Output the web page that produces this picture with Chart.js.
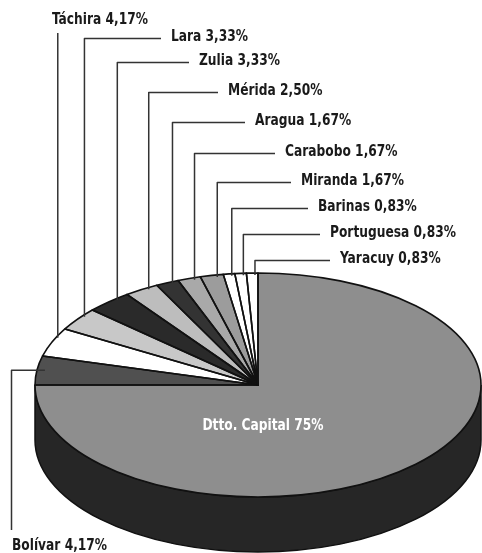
<!DOCTYPE html>
<html>
<head>
<meta charset="utf-8">
<script src="https://cdn.jsdelivr.net/npm/chart.js@4.4.1/dist/chart.umd.min.js"></script>
<style>
    html, body { margin: 0; padding: 0; background: #ffffff; }
    #pie { display: block; }
</style>
</head>
<body>
<canvas id="pie" width="482" height="553"></canvas>
<script>
// Distribución por entidad - pie 3D en escala de grises

const regions = ['Dtto. Capital', 'Bolívar', 'Táchira', 'Lara', 'Zulia', 'Mérida', 'Aragua', 'Carabobo', 'Miranda', 'Barinas', 'Portuguesa', 'Yaracuy'];
const shares = [75, 4.17, 4.17, 3.33, 3.33, 2.50, 1.67, 1.67, 1.67, 0.83, 0.83, 0.83];
const sliceColors = ['#8e8e8e', '#505050', '#ffffff', '#c8c8c8', '#2a2a2a', '#bdbdbd', '#333333', '#a9a9a9', '#9c9c9c', '#ffffff', '#ffffff', '#ffffff'];

// Callout placement (text left x, text middle y); index follows regions
const callouts = [
    { x: 263, y: 426, kind: 'inside' },
    { x: 12, y: 546, kind: 'down' },
    { x: 52, y: 20, kind: 'up' },
    { x: 171, y: 37, kind: 'elbow' },
    { x: 199, y: 61, kind: 'elbow' },
    { x: 228, y: 91, kind: 'elbow' },
    { x: 255, y: 121, kind: 'elbow' },
    { x: 285, y: 152, kind: 'elbow' },
    { x: 301, y: 181, kind: 'elbow' },
    { x: 318, y: 207, kind: 'elbow' },
    { x: 330, y: 233, kind: 'elbow' },
    { x: 340, y: 259, kind: 'elbow' }
];

// Projected ellipse of the pie top
const view = { cx: 258, cy: 385, rx: 223, ry: 112, depth: 55 };
const labelFont = "bold 16px 'Liberation Sans Narrow', 'DejaVu Sans Condensed', sans-serif";
const squeeze = 0.85; // condensed look for the labels

function formatShare(v) {
    return Number.isInteger(v) ? `${v}%` : `${v.toFixed(2).replace('.', ',')}%`;
}

function darken(hex, f) {
    const n = parseInt(hex.slice(1), 16);
    const c = [(n >> 16) & 255, (n >> 8) & 255, n & 255].map(v => Math.round(v * f));
    return `rgb(${c[0]},${c[1]},${c[2]})`;
}

function arcPath(ctx, a0, a1) {
    ctx.beginPath();
    ctx.moveTo(view.cx, view.cy);
    ctx.ellipse(view.cx, view.cy, view.rx, view.ry, 0, a0, a1);
    ctx.closePath();
}

function drawLabel(ctx, text, x, y, align) {
    ctx.save();
    ctx.translate(x, y);
    ctx.scale(squeeze, 1);
    ctx.textAlign = align;
    ctx.fillText(text, 0, 0);
    ctx.restore();
}

const tiltPlugin = {
    id: 'tilt',
    beforeDatasetsDraw(chart) {
        const ctx = chart.ctx;
        const arcs = chart.getDatasetMeta(0).data;
        const { cx, cy, rx, ry, depth } = view;

        // side wall for the front half (0..PI)
        arcs.forEach((arc, i) => {
            const { startAngle, endAngle } = arc.getProps(['startAngle', 'endAngle'], true);
            [0, 2 * Math.PI].forEach(shift => {
                const a0 = Math.max(startAngle, shift);
                const a1 = Math.min(endAngle, shift + Math.PI);
                if (a1 <= a0) return;
                ctx.beginPath();
                ctx.moveTo(cx + rx * Math.cos(a0), cy + ry * Math.sin(a0));
                ctx.ellipse(cx, cy + depth, rx, ry, 0, a0, a1);
                ctx.ellipse(cx, cy, rx, ry, 0, a1, a0, true);
                ctx.closePath();
                ctx.fillStyle = darken(sliceColors[i], 0.27);
                ctx.fill();
                ctx.lineWidth = 1.5;
                ctx.strokeStyle = '#111111';
                ctx.stroke();
            });
        });

        // squash the circle into the ellipse
        const { x, y, outerRadius } = arcs[0].getProps(['x', 'y', 'outerRadius'], true);
        ctx.save();
        ctx.translate(cx, cy);
        ctx.scale(rx / outerRadius, ry / outerRadius);
        ctx.translate(-x, -y);
    },
    afterDatasetsDraw(chart) {
        const ctx = chart.ctx;
        ctx.restore();
        const arcs = chart.getDatasetMeta(0).data;

        // slice outlines
        ctx.lineJoin = 'round';
        arcs.forEach(arc => {
            const { startAngle, endAngle } = arc.getProps(['startAngle', 'endAngle'], true);
            arcPath(ctx, startAngle, endAngle);
            ctx.lineWidth = 1.6;
            ctx.strokeStyle = '#111111';
            ctx.stroke();
        });

        // callouts
        ctx.font = labelFont;
        ctx.textBaseline = 'middle';
        arcs.forEach((arc, i) => {
            const c = callouts[i];
            const text = `${regions[i]} ${formatShare(shares[i])}`;
            const { startAngle, endAngle } = arc.getProps(['startAngle', 'endAngle'], true);

            if (c.kind === 'inside') {
                ctx.fillStyle = '#ffffff';
                drawLabel(ctx, text, c.x, c.y, 'center');
                return;
            }

            const mid = (startAngle + endAngle) / 2;
            const a = c.kind === 'down' ? mid : startAngle + 0.74 * (endAngle - startAngle);
            const px = view.cx + view.rx * Math.cos(a);
            const py = view.cy + view.ry * Math.sin(a);

            ctx.strokeStyle = '#333333';
            ctx.lineWidth = 1.5;
            ctx.beginPath();
            if (c.kind === 'down') {
                ctx.moveTo(px + 8, py);
                ctx.lineTo(c.x - 0.5, py);
                ctx.lineTo(c.x - 0.5, c.y - 16);
            } else if (c.kind === 'up') {
                ctx.moveTo(px, py + 2);
                ctx.lineTo(px, c.y + 13);
            } else {
                ctx.moveTo(px, py + 2);
                ctx.lineTo(px, c.y + 1.5);
                ctx.lineTo(c.x - 10, c.y + 1.5);
            }
            ctx.stroke();

            ctx.fillStyle = '#1a1a1a';
            drawLabel(ctx, text, c.x, c.y, 'left');
        });
    }
};

new Chart(document.getElementById('pie'), {
    type: 'pie',
    data: {
        labels: regions,
        datasets: [{
            data: shares,
            backgroundColor: sliceColors,
            borderWidth: 0
        }]
    },
    options: {
        responsive: false,
        animation: false,
        events: [],
        plugins: {
            legend: { display: false },
            tooltip: { enabled: false }
        }
    },
    plugins: [tiltPlugin]
});
</script>
</body>
</html>
